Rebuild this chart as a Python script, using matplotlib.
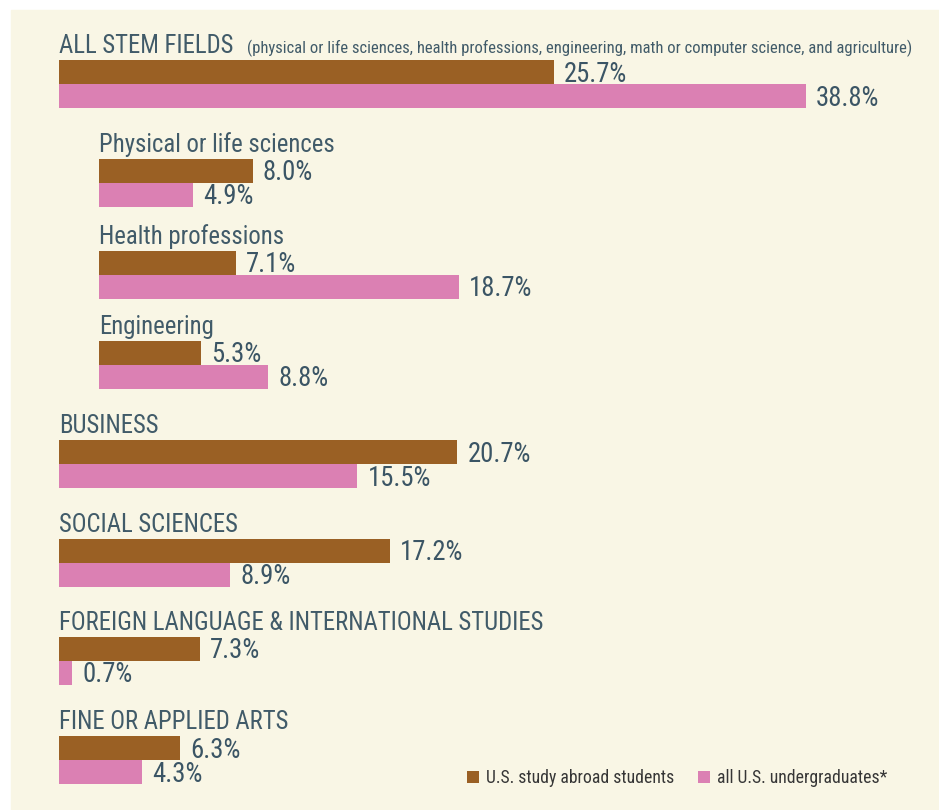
import matplotlib
matplotlib.use("Agg")
import matplotlib.pyplot as plt
from matplotlib.patches import Rectangle

# ------------------------------------------------------------------
# data
# ------------------------------------------------------------------
categories = ["ALL STEM FIELDS", "Physical or life sciences", "Health professions",
              "Engineering", "BUSINESS", "SOCIAL SCIENCES",
              "FOREIGN LANGUAGE & INTERNATIONAL STUDIES", "FINE OR APPLIED ARTS"]
study_abroad = [25.7, 8.0, 7.1, 5.3, 20.7, 17.2, 7.3, 6.3]
all_undergrad = [38.8, 4.9, 18.7, 8.8, 15.5, 8.9, 0.7, 4.3]
is_sub = [False, True, True, True, False, False, False, False]
stem_note = ("(physical or life sciences, health professions, engineering, "
             "math or computer science, and agriculture)")
series_names = ["U.S. study abroad students", "all U.S. undergraduates*"]

# ------------------------------------------------------------------
# style / layout (pixels)
# ------------------------------------------------------------------
W, H = 939, 810
BG = "#F9F6E5"
BROWN = "#9A6024"
PINK = "#DB80B3"
TXT = "#415B69"
VAL_TXT = "#3B5565"
LEG_TXT = "#363636"
FONT = ["Liberation Sans Narrow", "Roboto Condensed", "Roboto", "DejaVu Sans"]

X0 = 59            # pixel where the bars start
PX_PER = 19.25     # pixels per percentage point
INDENT = 40        # pixels of indent for STEM sub-fields
BAR_H = 24
group_top = [60, 159, 251, 341, 440, 539, 637, 736]   # top of brown bar (px)

fig = plt.figure(figsize=(W / 100, H / 100), dpi=100, facecolor="white")
fig.patches.append(Rectangle((11 / W, 0), 1 - 11 / W, (H - 10) / H,
                             transform=fig.transFigure, color=BG, zorder=-1))
ax = fig.add_axes([0, 0, 1, 1])
ax.set_facecolor("none")
ax.set_xlim(-X0 / PX_PER, (W - X0) / PX_PER)
ax.set_ylim(H, 0)
ax.axis("off")

dx = 1 / PX_PER  # one pixel in data units
lefts = [INDENT * dx if s else 0 for s in is_sub]
y_brown = [t + BAR_H / 2 for t in group_top]
y_pink = [t + BAR_H * 1.5 for t in group_top]

b1 = ax.barh(y_brown, study_abroad, height=BAR_H, left=lefts, color=BROWN,
             label=series_names[0])
b2 = ax.barh(y_pink, all_undergrad, height=BAR_H, left=lefts, color=PINK,
             label=series_names[1])

for i, cat in enumerate(categories):
    ax.text(lefts[i], group_top[i] - 7, cat, fontsize=17.8, color=TXT,
            family=FONT, va="baseline", ha="left")
    for vals, yc in ((study_abroad, y_brown[i]), (all_undergrad, y_pink[i])):
        ax.text(lefts[i] + vals[i] + 10 * dx, yc + 9.5, f"{vals[i]:.1f}%",
                fontsize=19.3, color=VAL_TXT, family=FONT, va="baseline",
                ha="left")

# note after ALL STEM FIELDS, fitted between x=247 and x=910
note = ax.text((247 - X0) * dx, group_top[0] - 7, stem_note, fontsize=13,
               color=TXT, family=FONT, va="baseline", ha="left")
fig.canvas.draw()
w = note.get_window_extent().width
note.set_fontsize(13 * (910 - 247) / w)

ax.legend(handles=[b1, b2], loc="center right", frameon=False, ncol=2,
          bbox_to_anchor=(896 / W, 1 - 778 / H), bbox_transform=fig.transFigure,
          handlelength=0.7, handleheight=0.7, handletextpad=0.4,
          columnspacing=1.3, borderpad=0,
          prop={"family": FONT, "size": 12.7, "weight": "normal"},
          labelcolor=LEG_TXT)

fig.savefig("out.png", dpi=100, facecolor="white")
